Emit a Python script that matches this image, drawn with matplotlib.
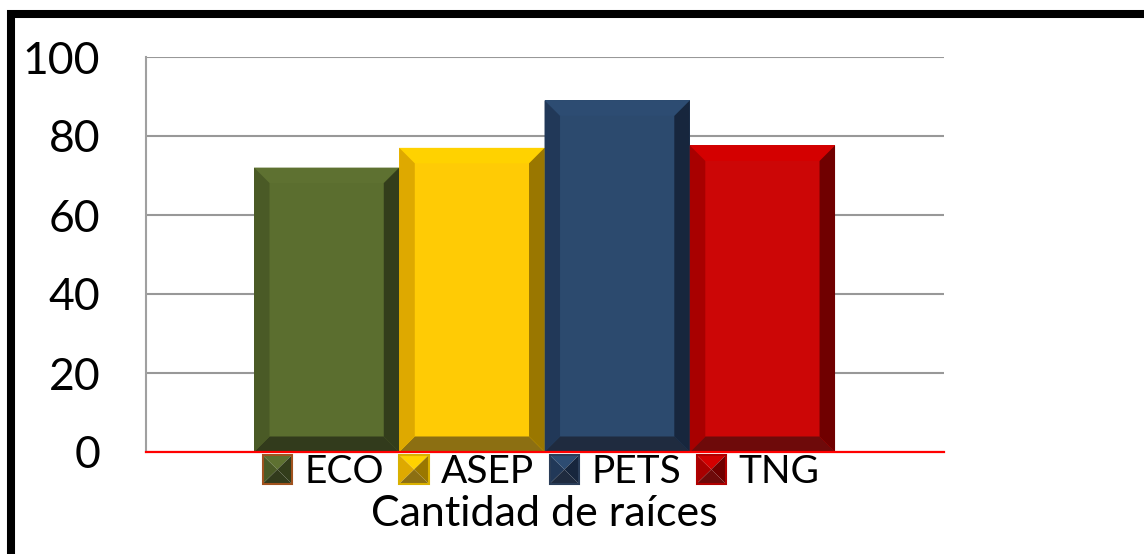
import matplotlib
matplotlib.use("Agg")
import matplotlib.pyplot as plt
from matplotlib.patches import Polygon, Rectangle
from matplotlib.legend_handler import HandlerBase

# Data
series = ["ECO", "ASEP", "PETS", "TNG"]
values = [72, 77, 89, 77.6]
yticks = [0, 20, 40, 60, 80, 100]
xlabel = "Cantidad de raíces"

# Bevel shades per series: face, top, left, right, bottom
face_colors = ["#5B6E2F", "#FFCB05", "#2C4A6E", "#CC0606"]
top_colors = ["#5E7131", "#FFD200", "#2D4C72", "#D40000"]
left_colors = ["#4A5A26", "#DEA900", "#213858", "#A80000"]
right_colors = ["#333D1B", "#9A7700", "#17263D", "#700000"]
bottom_colors = ["#323B1C", "#8C6F12", "#1F2B3F", "#6E0A0A"]
legend_edges = ["#A0521E", "#D9B000", "#2A3D58", "#B00000"]

plt.rcParams["font.family"] = ["Lato", "DejaVu Sans"]

W, H = 1144, 554
fig = plt.figure(figsize=(W / 100, H / 100), dpi=100)
ax = fig.add_axes([146 / W, 1 - 452 / H, (944 - 146) / W, (452 - 57) / H])

x = list(range(len(series)))
bars = ax.bar(x, values, width=1.0, color=face_colors, zorder=3, linewidth=0)

xlim = (-1.2435, 4.25)
ylim = (0, 100)
ax.set_xlim(*xlim)
ax.set_ylim(*ylim)

ax_w_px = 944 - 146
ax_h_px = 452 - 57
bevel_px = 15.5
bx = bevel_px * (xlim[1] - xlim[0]) / ax_w_px
by = bevel_px * (ylim[1] - ylim[0]) / ax_h_px

for i, rect in enumerate(bars):
    x0, w, h = rect.get_x(), rect.get_width(), rect.get_height()
    x1 = x0 + w
    shapes = [
        ([(x0, h), (x1, h), (x1 - bx, h - by), (x0 + bx, h - by)], top_colors[i]),
        ([(x0, 0), (x1, 0), (x1 - bx, by), (x0 + bx, by)], bottom_colors[i]),
        ([(x0, 0), (x0, h), (x0 + bx, h - by), (x0 + bx, by)], left_colors[i]),
        ([(x1, 0), (x1, h), (x1 - bx, h - by), (x1 - bx, by)], right_colors[i]),
    ]
    for pts, col in shapes:
        ax.add_patch(Polygon(pts, closed=True, facecolor=col, edgecolor="none", zorder=4))

# Axes styling
ax.set_yticks(yticks)
ax.set_xticks([])
ax.yaxis.grid(True, color="#989898", linewidth=1.5, zorder=0)
ax.set_axisbelow(True)
for s in ["top", "right"]:
    ax.spines[s].set_visible(False)
ax.spines["left"].set_color("#A0A0A0")
ax.spines["left"].set_linewidth(1.5)
ax.spines["bottom"].set_color("#FF0000")
ax.spines["bottom"].set_linewidth(1.6)
ax.spines["bottom"].set_zorder(6)
ax.tick_params(axis="y", length=0, pad=33, labelsize=32)


class BevelHandler(HandlerBase):
    def create_artists(self, legend, orig_handle, xdescent, ydescent,
                       width, height, fontsize, trans):
        i = orig_handle
        x0, y0 = -xdescent, -ydescent
        x1, y1 = x0 + width, y0 + height
        cx, cy = (x0 + x1) / 2, (y0 + y1) / 2
        arts = []
        tris = [
            ([(x0, y1), (x1, y1), (cx, cy)], top_colors[i]),
            ([(x0, y0), (x0, y1), (cx, cy)], left_colors[i]),
            ([(x1, y0), (x1, y1), (cx, cy)], right_colors[i]),
            ([(x0, y0), (x1, y0), (cx, cy)], bottom_colors[i]),
        ]
        for pts, col in tris:
            p = Polygon(pts, closed=True, facecolor=col, edgecolor="none", transform=trans)
            arts.append(p)
        arts.append(Rectangle((x0, y0), width, height, facecolor="none",
                              edgecolor=legend_edges[i], linewidth=1.5, transform=trans))
        return arts


handles = list(range(len(series)))
fig.legend(handles, series, handler_map={int: BevelHandler()},
           loc="center", bbox_to_anchor=(541 / W, 1 - 472 / H),
           ncol=4, frameon=False, fontsize=28, borderpad=0,
           handlelength=0.75, handleheight=0.75, handletextpad=0.32,
           columnspacing=0.4)

fig.text(544 / W, 1 - 514 / H, xlabel, ha="center", va="center", fontsize=31)

# Outer frame
fig.patches.append(Rectangle((11 / W, -0.2), 1.3, 1.2 - 14 / H + 0.0,
                             transform=fig.transFigure, facecolor="none",
                             edgecolor="black", linewidth=5.8, zorder=10))

fig.savefig("out.png", dpi=100)
